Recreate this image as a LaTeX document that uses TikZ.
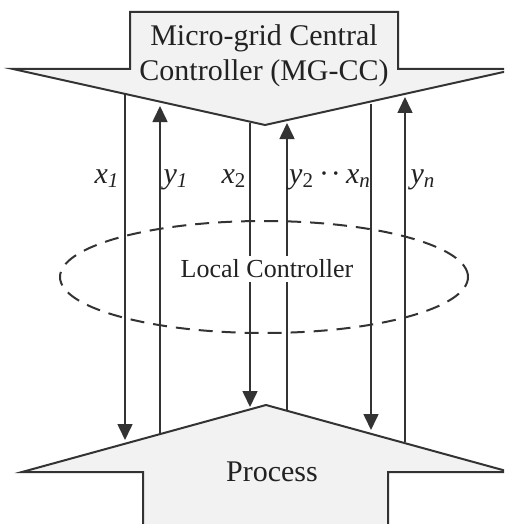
\documentclass[tikz,border=0pt]{standalone}
\usepackage{fontspec}
\setmainfont{Liberation Serif}
\newfontfamily\timesfam{Liberation Serif}
\usepackage{tikz}
\usetikzlibrary{arrows.meta,shapes.geometric}
\definecolor{edgegray}{HTML}{333333}
\definecolor{shapefill}{HTML}{F2F2F2}
\definecolor{textdark}{HTML}{222222}

\begin{document}
\begin{tikzpicture}[x=0.5pt,y=-0.5pt,
			shp/.style={draw=edgegray,line width=1pt,fill=shapefill,line join=miter},
			flow/.style={draw=edgegray,line width=0.8pt,-{Triangle[width=7.5pt,length=8pt]}},
			lbl/.style={anchor=base,text=textdark,inner sep=0pt,font=\timesfam\fontsize{15}{17}\selectfont},
		]
		\def\sig#1#2{\textit{#1}\textsubscript{#2}}
		\clip (0,0) rectangle (504,524);
		% controller and process arrows
		\path[shp] (130,12) -- (398,12) -- (398,69) -- (517,69) -- (265,125) -- (13,69) -- (130,69) -- cycle;
		\path[shp] (266,405) -- (510,472) -- (388,472) -- (388,540) -- (143,540) -- (143,472) -- (22,472) -- cycle;
		\node[align=center,text=textdark,font=\timesfam\fontsize{15}{17.5}\selectfont] (mgcc) at (264,56) {Micro-grid Central\\Controller (MG-CC)};
		\node[text=textdark,font=\timesfam\fontsize{15}{17}\selectfont] (proc) at (272,472) {Process};
		% ends of the signal lines
		\coordinate (x1a) at (125,94);  \coordinate (x1b) at (125,440);
		\coordinate (y1a) at (160,434); \coordinate (y1b) at (160,106);
		\coordinate (x2a) at (250,123); \coordinate (x2b) at (250,407);
		\coordinate (y2a) at (287,410); \coordinate (y2b) at (287,123);
		\coordinate (xna) at (371,104); \coordinate (xnb) at (371,430);
		\coordinate (yna) at (405,442); \coordinate (ynb) at (405,97);
		\draw[flow] (x1a) -- (x1b);
		\draw[flow] (y1a) -- (y1b);
		\draw[flow] (x2a) -- (x2b);
		\draw[flow] (y2a) -- (y2b);
		\draw[flow] (xna) -- (xnb);
		\draw[flow] (yna) -- (ynb);
		% local controller
		\node[ellipse,draw=edgegray,line width=1pt,dash pattern=on 7pt off 4.5pt,
			minimum width=204pt,minimum height=56pt] (lc) at (264,277) {};
		\node[fill=white,inner sep=2pt,text=textdark,font=\timesfam\fontsize{13}{15}\selectfont] (lctext) at (267,269) {Local Controller};
		\node[lbl] (lx1) at (107,183) {\sig{x}{\textit{1}}};
		\node[lbl] (ly1) at (176,183) {\sig{y}{\textit{1}}};
		\node[lbl] (lx2) at (234,183) {\sig{x}{2}};
		\node[lbl] (ly2) at (330,183) {\sig{y}{2}\,·\kern1pt·\,\sig{x}{\textit{n}}};
		\node[lbl] (lyn) at (423,183) {\sig{y}{\textit{n}}};
\end{tikzpicture}
\end{document}
